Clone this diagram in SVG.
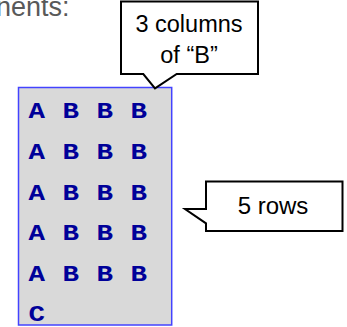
<svg xmlns="http://www.w3.org/2000/svg" width="347" height="327" viewBox="0 0 347 327">
<style>
.callout{fill:#ffffff;stroke:#000000;stroke-width:2;stroke-linejoin:miter}
.lbl{font-family:"Liberation Sans",Arial,sans-serif;fill:#000000;text-anchor:middle}
.code{font-family:"Liberation Mono","Courier New",monospace;font-weight:bold;font-size:22px;fill:#000099;letter-spacing:0.4px}
</style>
<rect x="0" y="0" width="347" height="327" fill="#ffffff"/>
<g id="heading">
<text x="-4" y="16" font-family="'Liberation Sans',Arial,sans-serif" font-size="27" fill="#595959">nents:</text>
</g>
<g id="grid">
<rect x="18.5" y="87.5" width="153.2" height="237.5" fill="#d9d9d9" stroke="#4343ff" stroke-width="1.5"/>
<g transform="translate(28.5 0) scale(1.25 1)">
<text class="code" x="0" y="118.3" xml:space="preserve">A B B B</text>
<text class="code" x="0" y="159" xml:space="preserve">A B B B</text>
<text class="code" x="0" y="199.8" xml:space="preserve">A B B B</text>
<text class="code" x="0" y="240.3" xml:space="preserve">A B B B</text>
<text class="code" x="0" y="280.7" xml:space="preserve">A B B B</text>
<text class="code" x="0" y="321.5">C</text>
</g>
</g>
<g id="callout-columns">
<path class="callout" d="M121,1.5 H258 V74 H176.7 L155,88.3 L143.3,74 H121 Z"/>
<text class="lbl" x="189" y="32" font-size="23.5">3 columns</text>
<text class="lbl" x="189" y="63.3" font-size="23.5">of “B”</text>
</g>
<g id="callout-rows">
<path class="callout" d="M206,181.5 H342.5 V231 H206 V223.3 L185,209 H206 Z"/>
<text class="lbl" x="273" y="214.3" font-size="24">5 rows</text>
</g>
<g id="connectors"></g>
</svg>
